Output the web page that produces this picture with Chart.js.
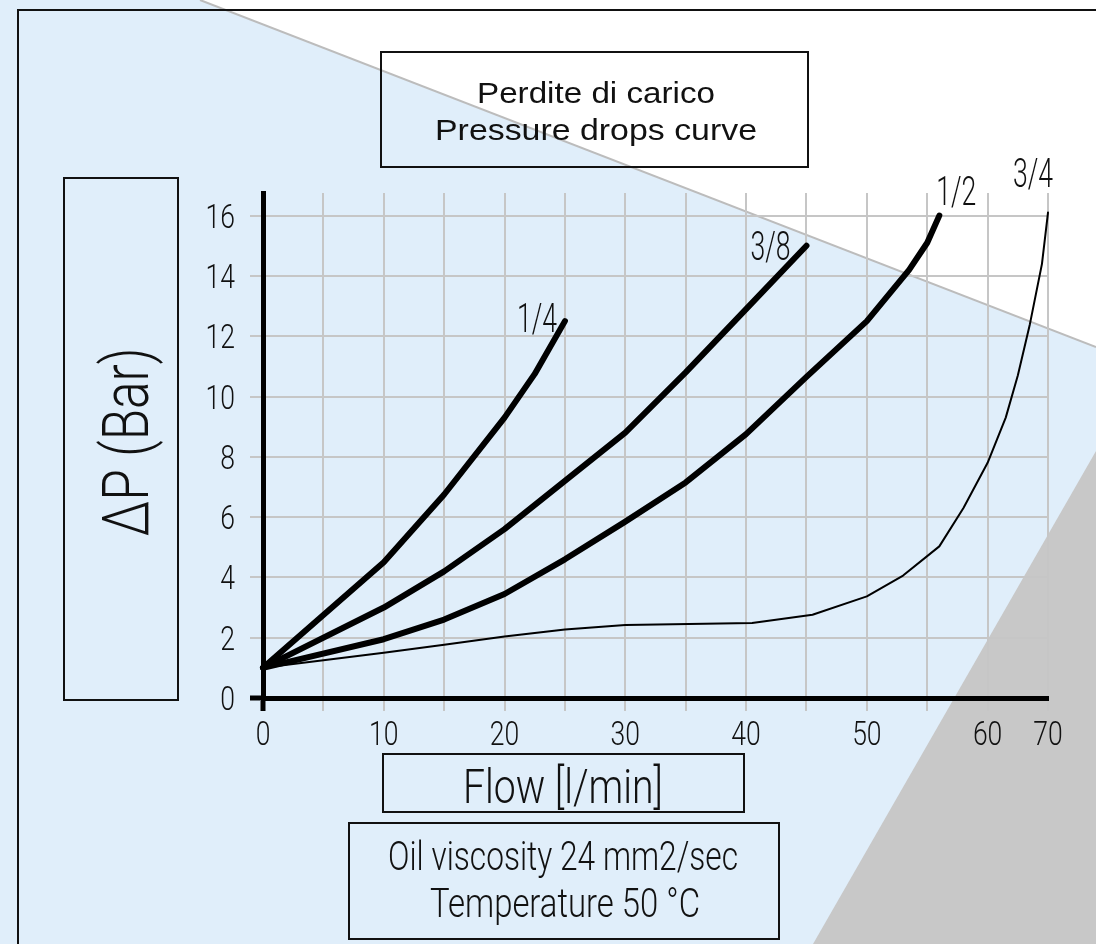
<!DOCTYPE html>
<html>
<head>
<meta charset="utf-8">
<script src="https://cdn.jsdelivr.net/npm/chart.js@4.4.1/dist/chart.umd.min.js"></script>
<style>
  html, body { margin: 0; padding: 0; background: #fff; }
  canvas { display: block; }
</style>
</head>
<body>
<canvas id="chartCanvas" width="1096" height="944"></canvas>
<script>
"use strict";

// x grid of the sheet: one line every 5 l/min, the last line carries "70"
const xTickLabels = ['0', '', '10', '', '20', '', '30', '', '40', '', '50', '', '60', '70'];
const yTickLabels = ['0', '2', '4', '6', '8', '10', '12', '14', '16'];

const seriesNames = ['1/4', '3/8', '1/2', '3/4'];

const flow14 = [0, 5, 10, 15, 20, 22.5, 25];
const drop14 = [1, 2.75, 4.5, 6.75, 9.3, 10.75, 12.5];

const flow38 = [0, 10, 15, 20, 25, 30, 35, 40, 45];
const drop38 = [1, 3.0, 4.2, 5.6, 7.2, 8.8, 10.8, 12.9, 15.0];

const flow12 = [0, 10, 15, 20, 25, 30, 35, 40, 45, 50, 53.5, 55, 56];
const drop12 = [1, 1.95, 2.6, 3.45, 4.6, 5.85, 7.15, 8.75, 10.65, 12.5, 14.2, 15.1, 16.0];

const flow34 = [0, 10, 15, 20, 25, 30, 40.5, 45.5, 50, 53, 56, 58, 60, 61.5, 62.5, 63.5, 64.5, 65];
const drop34 = [1, 1.5, 1.77, 2.04, 2.27, 2.42, 2.49, 2.76, 3.37, 4.06, 5.03, 6.3, 7.8, 9.3, 10.7, 12.4, 14.4, 16.1];

// styles
const lineWidths = [6, 6, 6, 2];
const labelOffsets = [[-28, -3], [-36, 0], [17, -25], [-15, -40]];
const gridColor = '#c6c6c6';
const inkColor = '#111';

function fontAvailable(name) {
    const c = document.createElement('canvas').getContext('2d');
    const sample = 'mmmmmlli1234567890WQ';
    c.font = '40px monospace';
    const base = c.measureText(sample).width;
    c.font = '40px "' + name + '", monospace';
    return c.measureText(sample).width !== base;
}

const thinName = ['Roboto', 'Lato', 'Open Sans', 'DejaVu Sans'].find(fontAvailable);
const thinFont = thinName ? '"' + thinName + '", sans-serif' : 'sans-serif';
const plainFont = fontAvailable('Liberation Sans') ? '"Liberation Sans", sans-serif' : 'Arial, sans-serif';

// text drawn with a horizontal squeeze sx, anchored at x, sitting on baseline y
function squeezedText(ctx, text, x, y, font, sx, align) {
    ctx.save();
    ctx.font = font;
    ctx.translate(x, y);
    ctx.scale(sx, 1);
    ctx.textAlign = align || 'center';
    ctx.textBaseline = 'alphabetic';
    ctx.fillStyle = inkColor;
    ctx.fillText(text, 0, 0);
    ctx.restore();
}

// text squeezed/stretched to a given width, centred on x
function fitText(ctx, text, x, y, font, width) {
    ctx.save();
    ctx.font = font;
    const w = ctx.measureText(text).width;
    ctx.restore();
    squeezedText(ctx, text, x, y, font, width / w, 'center');
}

function box(ctx, x, y, w, h) {
    ctx.save();
    ctx.strokeStyle = inkColor;
    ctx.lineWidth = 2;
    ctx.strokeRect(x, y, w, h);
    ctx.restore();
}

const sheetPlugin = {
    id: 'sheet',
    beforeDraw(chart) {
        const ctx = chart.ctx;
        ctx.save();
        ctx.fillStyle = '#e0eefa';
        ctx.fillRect(0, 0, chart.width, chart.height);

        ctx.fillStyle = '#ffffff';
        ctx.beginPath();
        ctx.moveTo(200, 0);
        ctx.lineTo(1096, 347);
        ctx.lineTo(1096, 0);
        ctx.closePath();
        ctx.fill();

        ctx.strokeStyle = '#bcbcbc';
        ctx.lineWidth = 2;
        ctx.beginPath();
        ctx.moveTo(200, 0);
        ctx.lineTo(1096, 347);
        ctx.stroke();

        ctx.fillStyle = '#c8c8c8';
        ctx.beginPath();
        ctx.moveTo(1096, 451);
        ctx.lineTo(1096, 944);
        ctx.lineTo(813, 944);
        ctx.closePath();
        ctx.fill();

        ctx.strokeStyle = inkColor;
        ctx.lineWidth = 2;
        ctx.strokeRect(18, 10, 1200, 1000);
        ctx.restore();
    },
    afterDatasetsDraw(chart) {
        const ctx = chart.ctx;
        chart.data.datasets.forEach((ds, i) => {
            const pts = chart.getDatasetMeta(i).data;
            const end = pts[pts.length - 1];
            const off = labelOffsets[i];
            fitText(ctx, seriesNames[i], end.x + off[0], end.y + off[1] + 14, '300 40px ' + thinFont, 40);
        });
    },
    afterDraw(chart) {
        const ctx = chart.ctx;
        const xs = chart.scales.x;
        const ys = chart.scales.y;
        const tickFont = '300 34px ' + thinFont;

        xs.ticks.forEach((t, i) => {
            const label = xTickLabels[i];
            if (label) {
                squeezedText(ctx, label, xs.getPixelForValue(t.value), xs.bottom - xs.height + 47, tickFont, 0.78, 'center');
            }
        });
        ys.ticks.forEach((t, i) => {
            squeezedText(ctx, yTickLabels[i], ys.right - 28, ys.getPixelForValue(t.value) + 12, tickFont, 0.78, 'right');
        });

        box(ctx, 381, 52, 427, 115);
        fitText(ctx, 'Perdite di carico', 596, 103, '29px ' + plainFont, 238);
        fitText(ctx, 'Pressure drops curve', 596, 140, '29px ' + plainFont, 322);

        box(ctx, 64, 178, 114, 522);
        ctx.save();
        ctx.translate(148, 442);
        ctx.rotate(-Math.PI / 2);
        fitText(ctx, '\u0394P (Bar)', 0, 0, '300 64px ' + thinFont, 189);
        ctx.restore();

        box(ctx, 383, 754, 361, 58);
        fitText(ctx, 'Flow [l/min]', 563, 803, '300 48px ' + thinFont, 200);

        box(ctx, 349, 823, 430, 116);
        fitText(ctx, 'Oil viscosity 24 mm2/sec', 563, 870, '300 40px ' + thinFont, 350);
        fitText(ctx, 'Temperature 50 \u00B0C', 565, 917, '300 41px ' + thinFont, 270);
    }
};

function points(xs, ys) {
    return xs.map((x, i) => ({ x: x, y: ys[i] }));
}

const ctx = document.getElementById('chartCanvas').getContext('2d');

const zeroTick = (c) => (c.tick && c.tick.value === 0 ? '#000' : gridColor);
const zeroTickWidth = (c) => (c.tick && c.tick.value === 0 ? 5 : 2);

const plot = new Chart(ctx, {
    type: 'scatter',
    data: {
        datasets: [
            { label: seriesNames[0], data: points(flow14, drop14) },
            { label: seriesNames[1], data: points(flow38, drop38) },
            { label: seriesNames[2], data: points(flow12, drop12) },
            { label: seriesNames[3], data: points(flow34, drop34) }
        ].map((ds, i) => Object.assign(ds, {
            showLine: true,
            borderColor: '#000',
            borderWidth: lineWidths[i],
            borderCapStyle: 'round',
            borderJoinStyle: 'round',
            tension: 0,
            pointRadius: 0,
            pointHoverRadius: 0,
            clip: false
        }))
    },
    options: {
        responsive: false,
        animation: false,
        devicePixelRatio: 1,
        layout: { padding: { top: 193, right: 48, left: 0, bottom: 0 } },
        plugins: {
            legend: { display: false },
            tooltip: { enabled: false }
        },
        scales: {
            x: {
                type: 'linear',
                min: 0,
                max: 65,
                afterFit: (s) => { s.height = 246; },
                grid: {
                    color: gridColor,
                    lineWidth: 2,
                    drawTicks: true,
                    tickLength: 13,
                    tickColor: zeroTick,
                    tickWidth: zeroTickWidth
                },
                border: { display: true, color: '#000', width: 5 },
                ticks: {
                    stepSize: 5,
                    maxTicksLimit: 20,
                    autoSkip: false,
                    maxRotation: 0,
                    color: 'rgba(0,0,0,0)',
                    callback: (v, i) => xTickLabels[i]
                }
            },
            y: {
                type: 'linear',
                min: 0,
                max: 16.75,
                afterFit: (s) => { s.width = 263; },
                grid: {
                    color: gridColor,
                    lineWidth: 2,
                    drawTicks: true,
                    tickLength: 13,
                    tickColor: zeroTick,
                    tickWidth: zeroTickWidth
                },
                border: { display: true, color: '#000', width: 5 },
                ticks: {
                    stepSize: 2,
                    includeBounds: false,
                    color: 'rgba(0,0,0,0)',
                    callback: (v, i) => yTickLabels[i]
                }
            }
        }
    },
    plugins: [sheetPlugin]
});
</script>
</body>
</html>
